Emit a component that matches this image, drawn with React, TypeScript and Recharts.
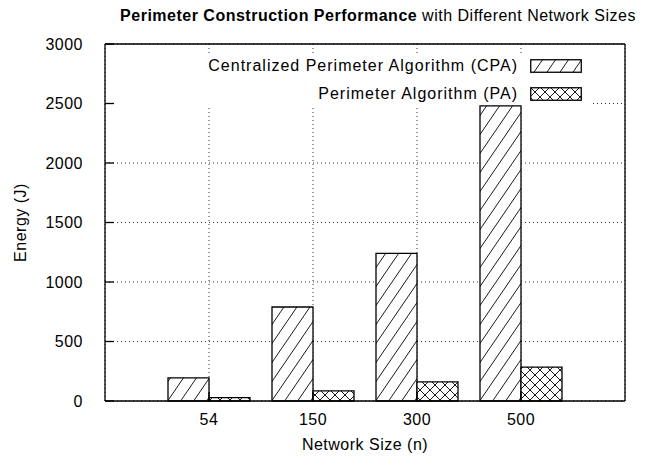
import { Bar, BarChart, CartesianGrid, Legend, XAxis, YAxis } from 'recharts'

// ---------------------------------------------------------------------------
// Data
// ---------------------------------------------------------------------------

const NETWORK_SIZES = ['54', '150', '300', '500']
const CPA_ENERGY = [195, 790, 1240, 2480]
const PA_ENERGY = [28, 85, 160, 285]
const ENERGY_TICKS = [0, 500, 1000, 1500, 2000, 2500, 3000]

const SERIES = [
  { key: 'cpa', name: 'Centralized Perimeter Algorithm (CPA)', pattern: 'hatch' },
  { key: 'pa', name: 'Perimeter Algorithm (PA)', pattern: 'cross' },
]

const data = NETWORK_SIZES.map((n, i) => ({ n, cpa: CPA_ENERGY[i], pa: PA_ENERGY[i] }))

const FONT = "'Liberation Sans', Arial, Helvetica, sans-serif"
const TICK_STYLE = { fill: '#000', fontSize: 16 }

// ---------------------------------------------------------------------------
// Fill patterns (gnuplot style)
// ---------------------------------------------------------------------------

function Patterns({ suffix = '' }: { suffix?: string }) {
  const w = 13
  const h = 19
  return (
    <defs>
      <pattern id={`hatch${suffix}`} width={w} height={h} patternUnits="userSpaceOnUse">
        <rect width={w} height={h} fill="#fff" />
        <path
          d={`M${-w} ${h} L0 0 M0 ${h} L${w} 0 M${w} ${h} L${2 * w} 0`}
          stroke="#000"
          strokeWidth={0.9}
        />
      </pattern>
      <pattern id={`cross${suffix}`} width={10} height={10} patternUnits="userSpaceOnUse">
        <rect width={10} height={10} fill="#fff" />
        <path d="M0 0 L10 10 M0 10 L10 0" stroke="#000" strokeWidth={0.9} />
      </pattern>
    </defs>
  )
}

// ---------------------------------------------------------------------------
// Key (opaque box, like gnuplot's)
// ---------------------------------------------------------------------------

function Key() {
  return (
    <div style={{ fontFamily: FONT, fontSize: 16, letterSpacing: 1, color: '#000' }}>
      {SERIES.map((s, i) => (
        <div
          key={s.key}
          style={{
            height: 24,
            marginTop: i === 0 ? 0 : 4,
            display: 'flex',
            alignItems: 'center',
            justifyContent: 'flex-end',
            paddingRight: 8,
          }}
        >
          <span style={{ marginRight: 12, whiteSpace: 'nowrap' }}>{s.name}</span>
          <svg width={52} height={14} style={{ display: 'block' }}>
            <Patterns suffix={`-key${i}`} />
            <rect
              x={0.75}
              y={0.75}
              width={50.5}
              height={12.5}
              fill={`url(#${s.pattern}-key${i})`}
              stroke="#000"
              strokeWidth={1.3}
            />
          </svg>
        </div>
      ))}
    </div>
  )
}

// ---------------------------------------------------------------------------
// Chart
// ---------------------------------------------------------------------------

export default function App() {
  return (
    <div style={{ position: 'absolute', left: 0, top: 0, fontFamily: FONT, letterSpacing: 0.5 }}>
      <BarChart
        width={651}
        height={458}
        data={data}
        margin={{ top: 0, right: 0, bottom: 0, left: 0 }}
        barCategoryGap={11}
        barGap={0}
      >
        <Patterns />
        <CartesianGrid stroke="#333" strokeDasharray="1 3" />
        <XAxis
          dataKey="n"
          height={57}
          padding={{ left: 52, right: 52 }}
          tickSize={-9}
          tickMargin={22}
          tick={TICK_STYLE}
          axisLine={{ stroke: '#000', strokeWidth: 1.3 }}
          tickLine={{ stroke: '#000', strokeWidth: 1.3 }}
          label={{
            content: ({ viewBox }: any) => (
              <text
                x={viewBox.x + viewBox.width / 2}
                y={viewBox.y + 49}
                textAnchor="middle"
                fontSize={16}
                fill="#000"
              >
                Network Size (n)
              </text>
            ),
          }}
        />
        <XAxis
          xAxisId="top"
          dataKey="n"
          orientation="top"
          height={44}
          padding={{ left: 52, right: 52 }}
          tickSize={-9}
          tick={false}
          axisLine={{ stroke: '#000', strokeWidth: 1.3 }}
          tickLine={{ stroke: '#000', strokeWidth: 1.3 }}
          label={{
            content: ({ viewBox }: any) => (
              <text
                x={viewBox.x + viewBox.width / 2 + 13}
                y={21}
                textAnchor="middle"
                fontSize={16}
                fill="#000"
              >
                <tspan fontWeight="bold">Perimeter Construction Performance</tspan>
                <tspan> with Different Network Sizes</tspan>
              </text>
            ),
          }}
        />
        <YAxis
          width={105}
          domain={[0, 3000]}
          ticks={ENERGY_TICKS}
          interval={0}
          tickSize={-9}
          tickMargin={31}
          tick={TICK_STYLE}
          axisLine={{ stroke: '#000', strokeWidth: 1.3 }}
          tickLine={{ stroke: '#000', strokeWidth: 1.3 }}
          label={{
            content: ({ viewBox }: any) => {
              const x = 20
              const y = viewBox.y + viewBox.height / 2
              return (
                <text
                  x={x}
                  y={y}
                  transform={`rotate(-90 ${x} ${y})`}
                  textAnchor="middle"
                  dominantBaseline="central"
                  fontSize={16}
                  fill="#000"
                >
                  Energy (J)
                </text>
              )
            },
          }}
        />
        <YAxis
          yAxisId="right"
          orientation="right"
          width={26}
          domain={[0, 3000]}
          ticks={ENERGY_TICKS}
          interval={0}
          tickSize={-9}
          tick={false}
          axisLine={{ stroke: '#000', strokeWidth: 1.3 }}
          tickLine={{ stroke: '#000', strokeWidth: 1.3 }}
        />
        <Legend
          layout="horizontal"
          align="center"
          verticalAlign="middle"
          wrapperStyle={{ top: 54, left: 115, width: 475, height: 51, background: '#fff' }}
          content={() => <Key />}
        />
        {SERIES.map((s) => (
          <Bar
            key={s.key}
            dataKey={s.key}
            name={s.name}
            fill={`url(#${s.pattern})`}
            stroke="#000"
            strokeWidth={1.3}
            isAnimationActive={false}
          />
        ))}
      </BarChart>
    </div>
  )
}
